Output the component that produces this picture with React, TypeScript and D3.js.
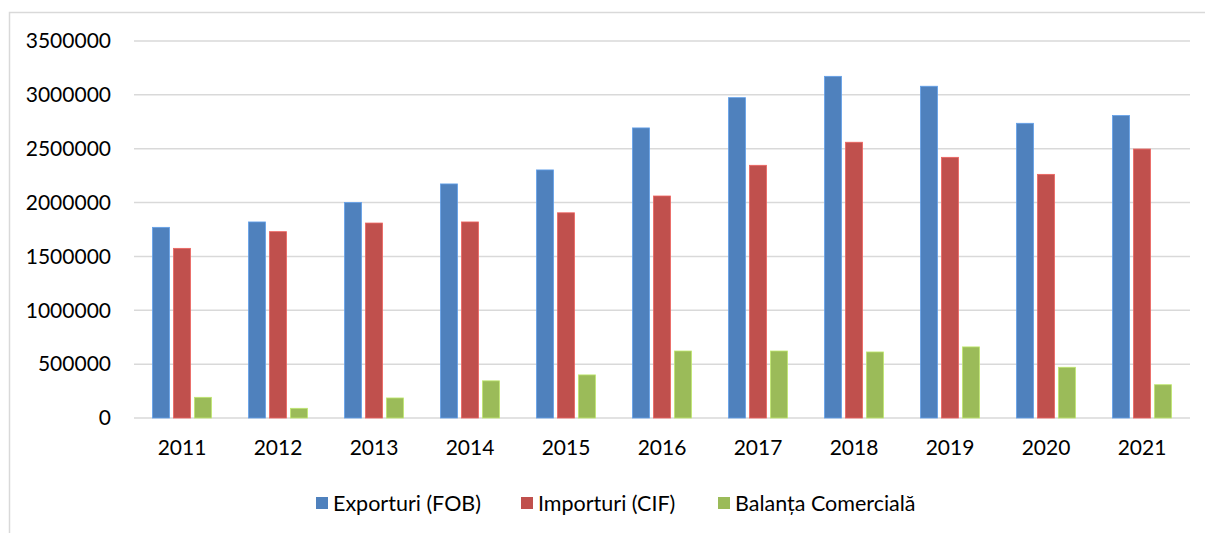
import React, { useEffect, useRef } from 'react';
import * as d3 from 'd3';

const years = ['2011', '2012', '2013', '2014', '2015', '2016', '2017', '2018', '2019', '2020', '2021'];
const seriesNames = ['Exporturi (FOB)', 'Importuri (CIF)', 'Balanța Comercială'];
const exporturi = [1770000, 1820000, 2000000, 2173000, 2303000, 2693000, 2974000, 3172000, 3080000, 2736000, 2808000];
const importuri = [1575000, 1730000, 1810000, 1820000, 1905000, 2061000, 2346000, 2560000, 2420000, 2262000, 2497000];
const balanta = [192000, 90000, 186000, 345000, 400000, 622000, 622000, 613000, 660000, 471000, 309000];
const colors = ['#4f81bd', '#c0504d', '#9bbb59'];
const yTicks = [0, 500000, 1000000, 1500000, 2000000, 2500000, 3000000, 3500000];

const W = 1205;
const H = 533;
const FONT = 'Lato, "Open Sans", sans-serif';

export default function App() {
  const ref = useRef<SVGSVGElement>(null);

  useEffect(() => {
    document.body.style.margin = '0';
    const svg = d3.select(ref.current);
    svg.selectAll('*').remove();

    const values = [exporturi, importuri, balanta];

    const x = d3.scaleBand<string>().domain(years).range([134, 1190]).paddingInner(0).paddingOuter(0);
    const x1 = d3.scaleBand<number>().domain([0, 1, 2]).range([18.5, 77.5]).paddingInner(0.19).paddingOuter(0);
    const y = d3.scaleLinear().domain([0, 3500000]).range([418, 41]);

    // chart frame (only left and top edges visible)
    svg.append('path')
      .attr('d', `M9.5,${H} V12.5 H${W}`)
      .attr('fill', 'none')
      .attr('stroke', '#d9d9d9')
      .attr('stroke-width', 1.5);

    // gridlines
    svg.append('g')
      .selectAll('line')
      .data(yTicks)
      .enter()
      .append('line')
      .attr('x1', 134)
      .attr('x2', 1190)
      .attr('y1', d => y(d))
      .attr('y2', d => y(d))
      .attr('stroke', '#d9d9d9')
      .attr('stroke-width', 1.5);

    // y labels
    svg.append('g')
      .selectAll('text')
      .data(yTicks)
      .enter()
      .append('text')
      .attr('x', 111)
      .attr('y', d => y(d))
      .attr('dy', '0.35em')
      .attr('text-anchor', 'end')
      .attr('font-family', FONT)
      .attr('font-size', 21)
      .attr('fill', '#000')
      .text(d => String(d));

    // bars
    const groups = svg.append('g')
      .selectAll('g')
      .data(years)
      .enter()
      .append('g')
      .attr('transform', d => `translate(${x(d)},0)`);

    groups.selectAll('rect')
      .data((d, i) => values.map((v, s) => ({ s, v: v[i] })))
      .enter()
      .append('rect')
      .attr('x', d => x1(d.s)!)
      .attr('width', x1.bandwidth())
      .attr('y', d => y(d.v))
      .attr('height', d => y(0) - y(d.v))
      .attr('fill', d => colors[d.s])
      .attr('stroke', d => d3.color(colors[d.s])!.brighter(0.6).toString())
      .attr('stroke-width', 0.8);

    // x labels
    svg.append('g')
      .selectAll('text')
      .data(years)
      .enter()
      .append('text')
      .attr('x', d => x(d)! + x.bandwidth() / 2)
      .attr('y', 448)
      .attr('dy', '0.35em')
      .attr('text-anchor', 'middle')
      .attr('font-family', FONT)
      .attr('font-size', 21)
      .attr('fill', '#000')
      .text(d => d);

    // legend
    const legendX = [316, 521, 718];
    const legend = svg.append('g')
      .selectAll('g')
      .data(seriesNames)
      .enter()
      .append('g')
      .attr('transform', (d, i) => `translate(${legendX[i]},503)`);
    legend.append('rect')
      .attr('x', 0)
      .attr('y', -6)
      .attr('width', 12)
      .attr('height', 12)
      .attr('fill', (d, i) => colors[i]);
    legend.append('text')
      .attr('x', 17)
      .attr('y', 0)
      .attr('dy', '0.35em')
      .attr('font-family', FONT)
      .attr('font-size', 21.5)
      .attr('fill', '#000')
      .text(d => d);
  }, []);

  return <svg ref={ref} width={W} height={H} style={{ display: 'block', background: '#fff' }} />;
}
